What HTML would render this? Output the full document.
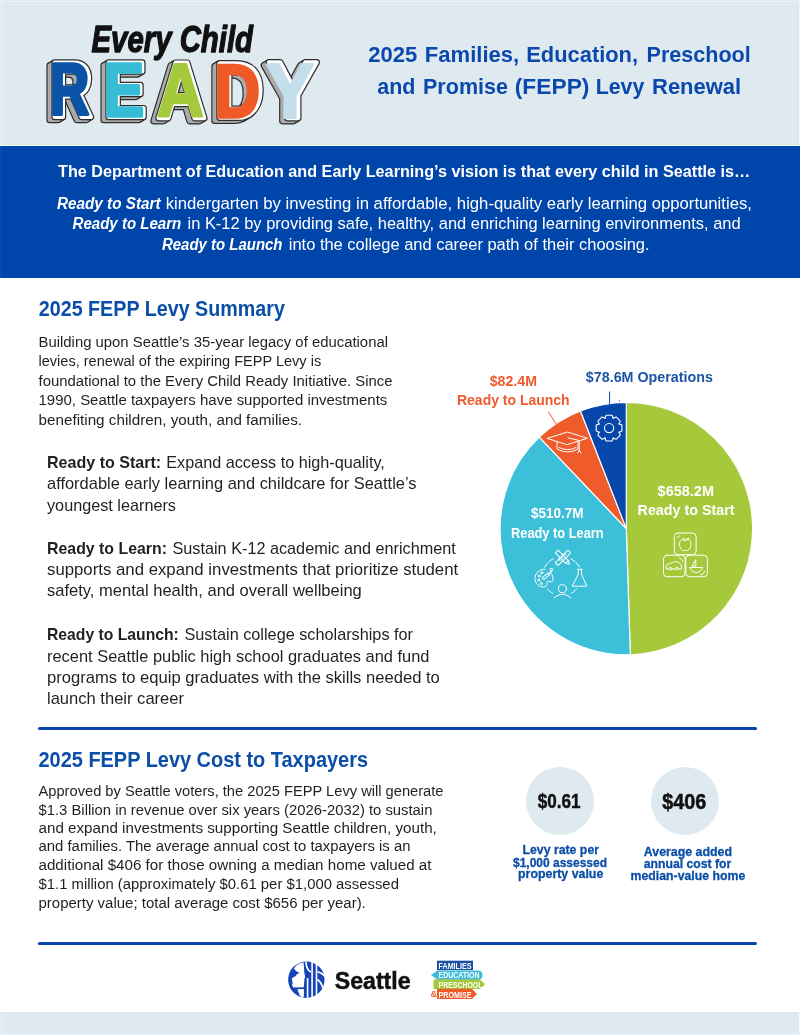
<!DOCTYPE html>
<html><head><meta charset="utf-8">
<style>
html,body{margin:0;padding:0;background:#fff;}
body{width:800px;height:1035px;position:relative;overflow:hidden;font-family:"Liberation Sans",sans-serif;}
.abs{position:absolute;}
svg{position:absolute;left:0;top:0;will-change:transform;}
text{font-family:"Liberation Sans",sans-serif;}
</style></head><body>
<div class="abs" style="left:0;top:0;width:800px;height:145px;background:#dee9f0;"></div>
<div class="abs" style="left:0;top:146px;width:800px;height:132px;background:#0046aa;"></div>
<div class="abs" style="left:38px;top:727px;width:719px;height:2.5px;background:#0746ab;border-radius:2px;"></div>
<div class="abs" style="left:38px;top:942px;width:719px;height:2.5px;background:#0746ab;border-radius:2px;"></div>
<div class="abs" style="left:0;top:1012px;width:800px;height:23px;background:#dee9f0;"></div>
<div class="abs" style="left:0;top:1px;width:800px;height:1px;background:#e9f5fb;"></div>
<div class="abs" style="left:1px;top:0;width:1px;height:145px;background:#e9f5fb;"></div>
<div class="abs" style="left:799px;top:0;width:1px;height:145px;background:#eef9fc;"></div>
<div class="abs" style="left:1px;top:1012px;width:1px;height:23px;background:#e9f5fb;"></div>
<div class="abs" style="left:799px;top:1012px;width:1px;height:23px;background:#f0fafd;"></div>
<div class="abs" style="left:0;top:146px;width:2px;height:132px;background:#0749b2;"></div>
<div class="abs" style="left:0;top:1034px;width:800px;height:1px;background:#eaf6fb;"></div>
<div class="abs" style="left:526px;top:767px;width:68px;height:68px;border-radius:50%;background:#dee9f0;"></div>
<div class="abs" style="left:651px;top:767px;width:68px;height:68px;border-radius:50%;background:#dee9f0;"></div>
<svg width="800" height="1035" viewBox="0 0 800 1035">
<path d="M626.3,528.6 L626.30,402.40 A126.2,126.2 0 0 1 630.32,654.74 Z" fill="#a5c93a" stroke="#fff" stroke-width="1.2" stroke-linejoin="round"/>
<path d="M626.3,528.6 L630.32,654.74 A126.2,126.2 0 0 1 539.30,437.18 Z" fill="#3cbfd8" stroke="#fff" stroke-width="1.2" stroke-linejoin="round"/>
<path d="M626.3,528.6 L539.30,437.18 A126.2,126.2 0 0 1 580.51,411.00 Z" fill="#ef5b2a" stroke="#fff" stroke-width="1.2" stroke-linejoin="round"/>
<path d="M626.3,528.6 L580.51,411.00 A126.2,126.2 0 0 1 626.30,402.40 Z" fill="#0746ab" stroke="#fff" stroke-width="1.2" stroke-linejoin="round"/>
<defs><pattern id="hatch" patternUnits="userSpaceOnUse" width="2" height="2" patternTransform="rotate(45)"><rect width="2" height="2" fill="#d4d4d4"/><rect width="0.8" height="2" fill="#6a6a6a"/></pattern><path id="gR" d="M1105 0 778 535H432V0H137V1409H841Q1093 1409 1230.0 1300.5Q1367 1192 1367 989Q1367 841 1283.0 733.5Q1199 626 1056 592L1437 0ZM1070 977Q1070 1180 810 1180H432V764H818Q942 764 1006.0 820.0Q1070 876 1070 977Z" vector-effect="non-scaling-stroke"/><path id="gE" d="M137 0V1409H1245V1181H432V827H1184V599H432V228H1286V0Z" vector-effect="non-scaling-stroke"/><path id="gA" d="M1133 0 1008 360H471L346 0H51L565 1409H913L1425 0ZM739 1192 733 1170Q723 1134 709.0 1088.0Q695 1042 537 582H942L803 987L760 1123Z" vector-effect="non-scaling-stroke"/><path id="gD" d="M1393 715Q1393 497 1307.5 334.5Q1222 172 1065.5 86.0Q909 0 707 0H137V1409H647Q1003 1409 1198.0 1229.5Q1393 1050 1393 715ZM1096 715Q1096 942 978.0 1061.5Q860 1181 641 1181H432V228H682Q872 228 984.0 359.0Q1096 490 1096 715Z" vector-effect="non-scaling-stroke"/><path id="gY" d="M831 578V0H537V578L35 1409H344L682 813L1024 1409H1333Z" vector-effect="non-scaling-stroke"/></defs>
<g fill="#2e2e2e" stroke="#2e2e2e" stroke-width="6.6" stroke-linejoin="round"><use href="#gR" transform="matrix(0.02785,0,0,-0.03857,45.885,120.000)"/><use href="#gR" transform="matrix(0.02785,0,0,-0.03857,46.885,119.400)"/><use href="#gR" transform="matrix(0.02785,0,0,-0.03857,47.885,118.800)"/><use href="#gR" transform="matrix(0.02785,0,0,-0.03857,48.885,118.200)"/><use href="#gR" transform="matrix(0.02785,0,0,-0.03857,49.885,117.600)"/></g>
<g fill="url(#hatch)" stroke="url(#hatch)" stroke-width="4.2" stroke-linejoin="round"><use href="#gR" transform="matrix(0.02785,0,0,-0.03857,45.885,120.000)"/><use href="#gR" transform="matrix(0.02785,0,0,-0.03857,46.885,119.400)"/><use href="#gR" transform="matrix(0.02785,0,0,-0.03857,47.885,118.800)"/><use href="#gR" transform="matrix(0.02785,0,0,-0.03857,48.885,118.200)"/><use href="#gR" transform="matrix(0.02785,0,0,-0.03857,49.885,117.600)"/></g>
<g fill="#2e2e2e" stroke="#2e2e2e" stroke-width="6.6" stroke-linejoin="round"><use href="#gR" transform="matrix(0.02785,0,0,-0.03857,50.885,117.000)"/></g>
<g fill="#fff" stroke="#fff" stroke-width="4.2" stroke-linejoin="round"><use href="#gR" transform="matrix(0.02785,0,0,-0.03857,50.885,117.000)"/></g>
<g fill="#0a53a6" stroke="#0a53a6" stroke-width="3.0" stroke-linejoin="round"><use href="#gR" transform="matrix(0.02642,0,0,-0.03595,50.030,114.400)"/></g>
<g fill="#2e2e2e" stroke="#2e2e2e" stroke-width="6.6" stroke-linejoin="round"><use href="#gE" transform="matrix(0.03029,0,0,-0.03857,99.551,120.000)"/><use href="#gE" transform="matrix(0.03029,0,0,-0.03857,100.551,119.400)"/><use href="#gE" transform="matrix(0.03029,0,0,-0.03857,101.551,118.800)"/><use href="#gE" transform="matrix(0.03029,0,0,-0.03857,102.551,118.200)"/><use href="#gE" transform="matrix(0.03029,0,0,-0.03857,103.551,117.600)"/></g>
<g fill="url(#hatch)" stroke="url(#hatch)" stroke-width="4.2" stroke-linejoin="round"><use href="#gE" transform="matrix(0.03029,0,0,-0.03857,99.551,120.000)"/><use href="#gE" transform="matrix(0.03029,0,0,-0.03857,100.551,119.400)"/><use href="#gE" transform="matrix(0.03029,0,0,-0.03857,101.551,118.800)"/><use href="#gE" transform="matrix(0.03029,0,0,-0.03857,102.551,118.200)"/><use href="#gE" transform="matrix(0.03029,0,0,-0.03857,103.551,117.600)"/></g>
<g fill="#2e2e2e" stroke="#2e2e2e" stroke-width="6.6" stroke-linejoin="round"><use href="#gE" transform="matrix(0.03029,0,0,-0.03857,104.551,117.000)"/></g>
<g fill="#fff" stroke="#fff" stroke-width="4.2" stroke-linejoin="round"><use href="#gE" transform="matrix(0.03029,0,0,-0.03857,104.551,117.000)"/></g>
<g fill="#37bcd6" stroke="#37bcd6" stroke-width="3.0" stroke-linejoin="round"><use href="#gE" transform="matrix(0.02955,0,0,-0.03722,103.602,116.200)"/></g>
<g fill="#2e2e2e" stroke="#2e2e2e" stroke-width="6.6" stroke-linejoin="round"><use href="#gA" transform="matrix(0.03333,0,0,-0.03932,151.800,121.100)"/><use href="#gA" transform="matrix(0.03333,0,0,-0.03932,152.800,120.500)"/><use href="#gA" transform="matrix(0.03333,0,0,-0.03932,153.800,119.900)"/><use href="#gA" transform="matrix(0.03333,0,0,-0.03932,154.800,119.300)"/><use href="#gA" transform="matrix(0.03333,0,0,-0.03932,155.800,118.700)"/></g>
<g fill="url(#hatch)" stroke="url(#hatch)" stroke-width="4.2" stroke-linejoin="round"><use href="#gA" transform="matrix(0.03333,0,0,-0.03932,151.800,121.100)"/><use href="#gA" transform="matrix(0.03333,0,0,-0.03932,152.800,120.500)"/><use href="#gA" transform="matrix(0.03333,0,0,-0.03932,153.800,119.900)"/><use href="#gA" transform="matrix(0.03333,0,0,-0.03932,154.800,119.300)"/><use href="#gA" transform="matrix(0.03333,0,0,-0.03932,155.800,118.700)"/></g>
<g fill="#2e2e2e" stroke="#2e2e2e" stroke-width="6.6" stroke-linejoin="round"><use href="#gA" transform="matrix(0.03333,0,0,-0.03932,156.800,118.100)"/></g>
<g fill="#fff" stroke="#fff" stroke-width="4.2" stroke-linejoin="round"><use href="#gA" transform="matrix(0.03333,0,0,-0.03932,156.800,118.100)"/></g>
<g fill="#a4c93a" stroke="#a4c93a" stroke-width="3.0" stroke-linejoin="round"><use href="#gA" transform="matrix(0.03100,0,0,-0.03648,157.519,115.900)"/></g>
<g fill="#2e2e2e" stroke="#2e2e2e" stroke-width="6.6" stroke-linejoin="round"><use href="#gD" transform="matrix(0.03256,0,0,-0.03861,210.139,120.700)"/><use href="#gD" transform="matrix(0.03256,0,0,-0.03861,211.139,120.100)"/><use href="#gD" transform="matrix(0.03256,0,0,-0.03861,212.139,119.500)"/><use href="#gD" transform="matrix(0.03256,0,0,-0.03861,213.139,118.900)"/><use href="#gD" transform="matrix(0.03256,0,0,-0.03861,214.139,118.300)"/></g>
<g fill="url(#hatch)" stroke="url(#hatch)" stroke-width="4.2" stroke-linejoin="round"><use href="#gD" transform="matrix(0.03256,0,0,-0.03861,210.139,120.700)"/><use href="#gD" transform="matrix(0.03256,0,0,-0.03861,211.139,120.100)"/><use href="#gD" transform="matrix(0.03256,0,0,-0.03861,212.139,119.500)"/><use href="#gD" transform="matrix(0.03256,0,0,-0.03861,213.139,118.900)"/><use href="#gD" transform="matrix(0.03256,0,0,-0.03861,214.139,118.300)"/></g>
<g fill="#2e2e2e" stroke="#2e2e2e" stroke-width="6.6" stroke-linejoin="round"><use href="#gD" transform="matrix(0.03256,0,0,-0.03861,215.139,117.700)"/></g>
<g fill="#fff" stroke="#fff" stroke-width="4.2" stroke-linejoin="round"><use href="#gD" transform="matrix(0.03256,0,0,-0.03861,215.139,117.700)"/></g>
<g fill="#ef5a27" stroke="#ef5a27" stroke-width="3.0" stroke-linejoin="round"><use href="#gD" transform="matrix(0.03057,0,0,-0.03698,214.711,117.300)"/></g>
<g fill="#2e2e2e" stroke="#2e2e2e" stroke-width="6.6" stroke-linejoin="round"><use href="#gY" transform="matrix(0.03683,0,0,-0.03960,262.611,121.100)"/><use href="#gY" transform="matrix(0.03683,0,0,-0.03960,263.611,120.500)"/><use href="#gY" transform="matrix(0.03683,0,0,-0.03960,264.611,119.900)"/><use href="#gY" transform="matrix(0.03683,0,0,-0.03960,265.611,119.300)"/><use href="#gY" transform="matrix(0.03683,0,0,-0.03960,266.611,118.700)"/></g>
<g fill="url(#hatch)" stroke="url(#hatch)" stroke-width="4.2" stroke-linejoin="round"><use href="#gY" transform="matrix(0.03683,0,0,-0.03960,262.611,121.100)"/><use href="#gY" transform="matrix(0.03683,0,0,-0.03960,263.611,120.500)"/><use href="#gY" transform="matrix(0.03683,0,0,-0.03960,264.611,119.900)"/><use href="#gY" transform="matrix(0.03683,0,0,-0.03960,265.611,119.300)"/><use href="#gY" transform="matrix(0.03683,0,0,-0.03960,266.611,118.700)"/></g>
<g fill="#2e2e2e" stroke="#2e2e2e" stroke-width="6.6" stroke-linejoin="round"><use href="#gY" transform="matrix(0.03683,0,0,-0.03960,267.611,118.100)"/></g>
<g fill="#fff" stroke="#fff" stroke-width="4.2" stroke-linejoin="round"><use href="#gY" transform="matrix(0.03683,0,0,-0.03960,267.611,118.100)"/></g>
<g fill="#c4dfeb" stroke="#c4dfeb" stroke-width="3.0" stroke-linejoin="round"><use href="#gY" transform="matrix(0.03467,0,0,-0.03762,266.287,117.500)"/></g>
<g fill="none" stroke="#fff" stroke-width="1.1" stroke-linejoin="round"><path d="M604.79,418.42 L606.13,415.24 L612.07,415.24 L613.41,418.42 L612.90,418.20 L616.09,416.91 L620.29,421.11 L619.00,424.30 L618.78,423.79 L621.96,425.13 L621.96,431.07 L618.78,432.41 L619.00,431.90 L620.29,435.09 L616.09,439.29 L612.90,438.00 L613.41,437.78 L612.07,440.96 L606.13,440.96 L604.79,437.78 L605.30,438.00 L602.11,439.29 L597.91,435.09 L599.20,431.90 L599.42,432.41 L596.24,431.07 L596.24,425.13 L599.42,423.79 L599.20,424.30 L597.91,421.11 L602.11,416.91 L605.30,418.20Z"/><circle cx="609.1" cy="428.1" r="4.6"/></g>
<g fill="none" stroke="#fff" stroke-width="1" stroke-linejoin="round" stroke-linecap="round"><path d="M547.5,438.3 L567.5,432 L587.3,438.3 L567.3,444.6 Z"/><path d="M557,441.5 V449 Q567.5,455 578,449 V441.5"/><path d="M559,447.5 Q567.5,452 576,447.5"/><path d="M568,437.8 L579.3,440.5 V451"/><path d="M577.8,453 L579.3,450 L580.8,453"/></g>
<g fill="none" stroke="#fff" stroke-width="1" stroke-linejoin="round" stroke-linecap="round"><path d="M570.85,558.73 A19.5,19.5 0 0 1 575.05,561.61"/><path d="M576.26,562.80 A19.5,19.5 0 0 1 579.22,566.95"/><path d="M576.72,588.89 A19.5,19.5 0 0 1 574.27,591.25"/><path d="M573.46,591.88 A19.5,19.5 0 0 1 571.45,593.16"/><path d="M552.55,593.16 A19.5,19.5 0 0 1 550.54,591.88"/><path d="M549.73,591.25 A19.5,19.5 0 0 1 547.28,588.89"/><path d="M544.63,567.25 A19.5,19.5 0 0 1 547.74,562.80"/><path d="M548.95,561.61 A19.5,19.5 0 0 1 553.15,558.73"/><g transform="translate(563,557.8) rotate(45)"><rect x="-2" y="-9" width="4" height="18" rx="0.6"/><path d="M-2,-4 H0 M-2,0 H0 M-2,4 H0"/></g><g transform="translate(563,557.8) rotate(-45)"><path d="M-2,-9 H2 V5.5 L0,9 L-2,5.5 Z M-2,5.5 H2"/></g><path d="M545,569.3 C539,569 535,573.5 535,578.5 C535,583.5 539,587 543.5,587 C546.5,587 547.5,585 547,583.5 C546.5,582 548,580.5 550,581.5 C552.5,582.5 553.5,580.5 553,578 C552.5,575.5 551.5,573 550,572"/><circle cx="539.3" cy="576" r="1.1"/><circle cx="541.8" cy="572.8" r="1.1"/><circle cx="538.8" cy="580" r="1.1"/><circle cx="541.3" cy="583.5" r="1.1"/><g transform="translate(548,574.5) rotate(50)"><path d="M-1.2,-1 V6 Q0,8 1.2,6 V-1 Z"/><path d="M0,-1 V-4.5 Q-1.3,-5 -1,-6.5"/></g><path d="M549.8,569 Q552.5,567.5 553,569.5 Q552,571.5 550.3,571.2"/><path d="M577.5,569.3 H582.2 M578.3,569.3 V574.3 L572.2,586.2 H586.8 L581.5,574.3 V569.3"/><circle cx="562.5" cy="588.7" r="4.1"/><path d="M554,597.8 Q562.5,590.5 571,597.8"/></g>
<g fill="none" stroke="#fff" stroke-width="1" stroke-linejoin="round" stroke-linecap="round"><rect x="674.3" y="533" width="21.8" height="21.6" rx="3.6"/><rect x="663.5" y="555.2" width="21.6" height="21.5" rx="3.6"/><rect x="685.8" y="555.2" width="21.6" height="21.5" rx="3.6"/><path d="M685.2,540.5 C682.5,538.5 679.5,540 679.5,544 C679.5,548 682,551 684,550.5 C684.7,550.3 685.7,550.3 686.4,550.5 C688.4,551 691,548 691,544 C691,540 688,538.5 685.2,540.5 Z"/><path d="M685.2,540.5 L683.2,537.8 M685.2,540.5 Q686.5,538 689,538.2"/><path d="M676.8,537.8 Q678,536 680,535.8"/><path d="M666.2,568.6 V566.3 Q666.3,564.5 668.3,564.1 L670.2,563.6 Q672.8,561.6 675.8,561.6 Q678.8,561.8 680.3,564 Q681.8,565.5 681.8,567.8 L681.5,568.6 Z"/><circle cx="670.4" cy="568.6" r="1.4" fill="#a5c93a"/><circle cx="676.8" cy="568.6" r="1.4" fill="#a5c93a"/><path d="M679,557.5 Q682,558.5 683,561.5"/><path d="M695.5,560 L692.2,566 H695.5 Z"/><path d="M690,567.5 H702.5 Q701,572.5 696,572.5 Q691.5,572.5 690,567.5 Z"/><path d="M700.5,575 Q704,574 705,571"/></g>
<circle cx="306.35" cy="979.7" r="18.2" fill="#1645b6"/><path fill="#fff" d="M303.59,962.15 L299.39,963.46 L296.24,965.56 L293.98,968.45 L295.97,970.97 L299.75,973.28 L296.76,973.96 L296.24,975.69 L292.56,977.79 L291.67,979.21 L292.40,980.78 L292.19,982.10 L292.82,983.15 L292.19,984.46 L292.30,986.03 L293.61,987.61 L303.85,987.35 L304.48,978.53 L305.16,977.48 L304.27,972.12Z"/><path fill="#fff" d="M297.29,989.18 L303.85,989.03 L303.85,995.75 L303.06,998.11 L299.91,995.75Z"/><g stroke="#fff" stroke-width="1.6" fill="none"><path d="M305.95,961.62 Q306.21,969.50 310.93,972.12"/><path d="M307.6,978 V998.5"/><path d="M312.1,961.5 V998.5"/><path d="M316.5,962.5 V998"/><path d="M317.5,971.5 Q322,973 325,976.5"/><path d="M317.5,979.5 Q321.5,982.5 323,988.5"/></g>
<rect x="437" y="960.7" width="36" height="9.4" fill="#1b4ea6"/><path d="M437.5,970.4 H478 Q482.5,970.4 482.5,975 Q482.5,979.8 478,979.8 H437.5 L431,975.1 Z" fill="#3bbcd8"/><path d="M433.5,979.5 H480 L485,984.2 L480,989 H433.5 Z" fill="#a3c83a"/><path d="M437,988.8 H472 L476.8,993.9 L472,999 H437 Z" fill="#ee5a2a"/><g fill="#fff" font-family="Liberation Sans, sans-serif" font-weight="bold" font-size="8.6"><text x="438.5" y="968.5" textLength="33" lengthAdjust="spacingAndGlyphs">FAMILIES</text><text x="438.5" y="978.3" textLength="41" lengthAdjust="spacingAndGlyphs">EDUCATION</text><text x="438.5" y="987.6" textLength="44" lengthAdjust="spacingAndGlyphs">PRESCHOOL</text><text x="438.5" y="997.5" textLength="33" lengthAdjust="spacingAndGlyphs">PROMISE</text></g><text x="430.5" y="997.3" font-family="Liberation Sans, sans-serif" font-weight="bold" font-size="9" fill="#ee5a2a">&amp;</text>
<path d="M609.6,391.5 V404" stroke="#0746ab" stroke-width="1"/><circle cx="619.5" cy="400.8" r="0.6" fill="#0746ab"/>
<path d="M548.3,411.7 L556.5,424.5" stroke="#ef5b2a" stroke-width="1"/>
<text x="368.2" y="62" font-size="22.3" fill="#0a48ae" font-weight="bold" font-style="normal" textLength="49.1" lengthAdjust="spacingAndGlyphs">2025</text>
<text x="424.8" y="62" font-size="22.3" fill="#0a48ae" font-weight="bold" font-style="normal" textLength="94.4" lengthAdjust="spacingAndGlyphs">Families,</text>
<text x="526.3" y="62" font-size="22.3" fill="#0a48ae" font-weight="bold" font-style="normal" textLength="111.7" lengthAdjust="spacingAndGlyphs">Education,</text>
<text x="646.5" y="62" font-size="22.3" fill="#0a48ae" font-weight="bold" font-style="normal" textLength="104.3" lengthAdjust="spacingAndGlyphs">Preschool</text>
<text x="377.3" y="94" font-size="22.3" fill="#0a48ae" font-weight="bold" font-style="normal" textLength="38.1" lengthAdjust="spacingAndGlyphs">and</text>
<text x="423" y="94" font-size="22.3" fill="#0a48ae" font-weight="bold" font-style="normal" textLength="85.0" lengthAdjust="spacingAndGlyphs">Promise</text>
<text x="514.8" y="94" font-size="22.3" fill="#0a48ae" font-weight="bold" font-style="normal" textLength="74.6" lengthAdjust="spacingAndGlyphs">(FEPP)</text>
<text x="595.7" y="94" font-size="22.3" fill="#0a48ae" font-weight="bold" font-style="normal" textLength="48.7" lengthAdjust="spacingAndGlyphs">Levy</text>
<text x="652" y="94" font-size="22.3" fill="#0a48ae" font-weight="bold" font-style="normal" textLength="89.2" lengthAdjust="spacingAndGlyphs">Renewal</text>
<text x="58" y="177.3" font-size="16.8" fill="#fff" textLength="692.3" lengthAdjust="spacingAndGlyphs"><tspan font-weight="bold" font-style="normal">The Department of Education and Early Learning’s vision is that every child in Seattle is…</tspan></text>
<text x="57" y="209" font-size="16.8" fill="#fff" font-weight="bold" font-style="italic" textLength="103.5" lengthAdjust="spacingAndGlyphs">Ready to Start</text>
<text x="165.75" y="209" font-size="16.8" fill="#fff" font-weight="normal" font-style="normal" textLength="586.2" lengthAdjust="spacingAndGlyphs">kindergarten by investing in affordable, high-quality early learning opportunities,</text>
<text x="72.5" y="229.4" font-size="16.8" fill="#fff" font-weight="bold" font-style="italic" textLength="108.8" lengthAdjust="spacingAndGlyphs">Ready to Learn</text>
<text x="187.5" y="229.4" font-size="16.8" fill="#fff" font-weight="normal" font-style="normal" textLength="553.1" lengthAdjust="spacingAndGlyphs">in K-12 by providing safe, healthy, and enriching learning environments, and</text>
<text x="162" y="249.5" font-size="16.8" fill="#fff" font-weight="bold" font-style="italic" textLength="120.5" lengthAdjust="spacingAndGlyphs">Ready to Launch</text>
<text x="288.75" y="249.5" font-size="16.8" fill="#fff" font-weight="normal" font-style="normal" textLength="360.8" lengthAdjust="spacingAndGlyphs">into the college and career path of their choosing.</text>
<text x="38.75" y="315.5" font-size="22.6" fill="#0a4ea8" textLength="246.2" lengthAdjust="spacingAndGlyphs"><tspan font-weight="bold" font-style="normal">2025 FEPP Levy Summary</tspan></text>
<text x="38.5" y="346.55" font-size="15.4" fill="#231f20" textLength="349.5" lengthAdjust="spacingAndGlyphs"><tspan font-weight="normal" font-style="normal">Building upon Seattle’s 35-year legacy of educational</tspan></text>
<text x="38.5" y="365.90000000000003" font-size="15.4" fill="#231f20" textLength="282.7" lengthAdjust="spacingAndGlyphs"><tspan font-weight="normal" font-style="normal">levies, renewal of the expiring FEPP Levy is</tspan></text>
<text x="38.5" y="385.8" font-size="15.4" fill="#231f20" textLength="354.0" lengthAdjust="spacingAndGlyphs"><tspan font-weight="normal" font-style="normal">foundational to the Every Child Ready Initiative. Since</tspan></text>
<text x="38.5" y="405.40000000000003" font-size="15.4" fill="#231f20" textLength="348.8" lengthAdjust="spacingAndGlyphs"><tspan font-weight="normal" font-style="normal">1990, Seattle taxpayers have supported investments</tspan></text>
<text x="38.5" y="424.90000000000003" font-size="15.4" fill="#231f20" textLength="263.5" lengthAdjust="spacingAndGlyphs"><tspan font-weight="normal" font-style="normal">benefiting children, youth, and families.</tspan></text>
<text x="47" y="468.0" font-size="16.6" fill="#231f20" font-weight="bold" font-style="normal" textLength="114.2" lengthAdjust="spacingAndGlyphs">Ready to Start:</text>
<text x="166.25" y="468.0" font-size="16.6" fill="#231f20" font-weight="normal" font-style="normal" textLength="218.6" lengthAdjust="spacingAndGlyphs">Expand access to high-quality,</text>
<text x="47" y="553.5" font-size="16.6" fill="#231f20" font-weight="bold" font-style="normal" textLength="120.0" lengthAdjust="spacingAndGlyphs">Ready to Learn:</text>
<text x="172.5" y="553.5" font-size="16.6" fill="#231f20" font-weight="normal" font-style="normal" textLength="283.3" lengthAdjust="spacingAndGlyphs">Sustain K-12 academic and enrichment</text>
<text x="47" y="640.0" font-size="16.6" fill="#231f20" font-weight="bold" font-style="normal" textLength="131.8" lengthAdjust="spacingAndGlyphs">Ready to Launch:</text>
<text x="184.5" y="640.0" font-size="16.6" fill="#231f20" font-weight="normal" font-style="normal" textLength="228.5" lengthAdjust="spacingAndGlyphs">Sustain college scholarships for</text>
<text x="47" y="489.4" font-size="16.6" fill="#231f20" textLength="369.5" lengthAdjust="spacingAndGlyphs"><tspan font-weight="normal" font-style="normal">affordable early learning and childcare for Seattle’s</tspan></text>
<text x="47" y="510.5" font-size="16.6" fill="#231f20" textLength="129.0" lengthAdjust="spacingAndGlyphs"><tspan font-weight="normal" font-style="normal">youngest learners</tspan></text>
<text x="47" y="574.9" font-size="16.6" fill="#231f20" textLength="411.2" lengthAdjust="spacingAndGlyphs"><tspan font-weight="normal" font-style="normal">supports and expand investments that prioritize student</tspan></text>
<text x="47" y="596.1" font-size="16.6" fill="#231f20" textLength="314.8" lengthAdjust="spacingAndGlyphs"><tspan font-weight="normal" font-style="normal">safety, mental health, and overall wellbeing</tspan></text>
<text x="47" y="661.8" font-size="16.6" fill="#231f20" textLength="382.5" lengthAdjust="spacingAndGlyphs"><tspan font-weight="normal" font-style="normal">recent Seattle public high school graduates and fund</tspan></text>
<text x="47" y="683.0" font-size="16.6" fill="#231f20" textLength="392.8" lengthAdjust="spacingAndGlyphs"><tspan font-weight="normal" font-style="normal">programs to equip graduates with the skills needed to</tspan></text>
<text x="47" y="704.3" font-size="16.6" fill="#231f20" textLength="137.0" lengthAdjust="spacingAndGlyphs"><tspan font-weight="normal" font-style="normal">launch their career</tspan></text>
<text x="38.5" y="766.6" font-size="22.6" fill="#0a4ea8" textLength="329.5" lengthAdjust="spacingAndGlyphs"><tspan font-weight="bold" font-style="normal">2025 FEPP Levy Cost to Taxpayers</tspan></text>
<text x="38.5" y="796.05" font-size="15.4" fill="#231f20" textLength="405.0" lengthAdjust="spacingAndGlyphs"><tspan font-weight="normal" font-style="normal">Approved by Seattle voters, the 2025 FEPP Levy will generate</tspan></text>
<text x="38.5" y="814.55" font-size="15.4" fill="#231f20" textLength="393.9" lengthAdjust="spacingAndGlyphs"><tspan font-weight="normal" font-style="normal">$1.3 Billion in revenue over six years (2026-2032) to sustain</tspan></text>
<text x="38.5" y="832.8" font-size="15.4" fill="#231f20" textLength="398.3" lengthAdjust="spacingAndGlyphs"><tspan font-weight="normal" font-style="normal">and expand investments supporting Seattle children, youth,</tspan></text>
<text x="38.5" y="851.3" font-size="15.4" fill="#231f20" textLength="372.0" lengthAdjust="spacingAndGlyphs"><tspan font-weight="normal" font-style="normal">and families. The average annual cost to taxpayers is an</tspan></text>
<text x="38.5" y="870.0999999999999" font-size="15.4" fill="#231f20" textLength="393.0" lengthAdjust="spacingAndGlyphs"><tspan font-weight="normal" font-style="normal">additional $406 for those owning a median home valued at</tspan></text>
<text x="38.5" y="888.9" font-size="15.4" fill="#231f20" textLength="360.4" lengthAdjust="spacingAndGlyphs"><tspan font-weight="normal" font-style="normal">$1.1 million (approximately $0.61 per $1,000 assessed</tspan></text>
<text x="38.5" y="907.5999999999999" font-size="15.4" fill="#231f20" textLength="327.3" lengthAdjust="spacingAndGlyphs"><tspan font-weight="normal" font-style="normal">property value; total average cost $656 per year).</tspan></text>
<text x="537.8" y="808" font-size="19.5" font-weight="bold" fill="#111" stroke="#111" stroke-width="0.45" textLength="42.8" lengthAdjust="spacingAndGlyphs">$0.61</text>
<text x="662.3" y="809.4" font-size="21.5" font-weight="bold" fill="#111" stroke="#111" stroke-width="0.5" textLength="44.1" lengthAdjust="spacingAndGlyphs">$406</text>
<text x="522.5" y="854.4" font-size="13.6" font-weight="bold" fill="#0a4ea8" stroke="#0a4ea8" stroke-width="0.3" textLength="76.5" lengthAdjust="spacingAndGlyphs">Levy rate per</text>
<text x="513" y="866.9" font-size="13.6" font-weight="bold" fill="#0a4ea8" stroke="#0a4ea8" stroke-width="0.3" textLength="94.0" lengthAdjust="spacingAndGlyphs">$1,000 assessed</text>
<text x="518" y="878.1" font-size="13.6" font-weight="bold" fill="#0a4ea8" stroke="#0a4ea8" stroke-width="0.3" textLength="85.3" lengthAdjust="spacingAndGlyphs">property value</text>
<text x="643.8" y="855.5" font-size="13.6" font-weight="bold" fill="#0a4ea8" stroke="#0a4ea8" stroke-width="0.3" textLength="88.2" lengthAdjust="spacingAndGlyphs">Average added</text>
<text x="643.8" y="868.2" font-size="13.6" font-weight="bold" fill="#0a4ea8" stroke="#0a4ea8" stroke-width="0.3" textLength="87.5" lengthAdjust="spacingAndGlyphs">annual cost for</text>
<text x="630.5" y="880" font-size="13.6" font-weight="bold" fill="#0a4ea8" stroke="#0a4ea8" stroke-width="0.3" textLength="114.8" lengthAdjust="spacingAndGlyphs">median-value home</text>
<text x="657.6" y="495.8" font-size="15" fill="#fff" textLength="56.4" lengthAdjust="spacingAndGlyphs"><tspan font-weight="bold" font-style="normal">$658.2M</tspan></text>
<text x="637.6" y="515" font-size="15" fill="#fff" textLength="96.9" lengthAdjust="spacingAndGlyphs"><tspan font-weight="bold" font-style="normal">Ready to Start</tspan></text>
<text x="531" y="518" font-size="15" fill="#fff" textLength="52.6" lengthAdjust="spacingAndGlyphs"><tspan font-weight="bold" font-style="normal">$510.7M</tspan></text>
<text x="511" y="538" font-size="15" fill="#fff" textLength="92.6" lengthAdjust="spacingAndGlyphs"><tspan font-weight="bold" font-style="normal">Ready to Learn</tspan></text>
<text x="489.7" y="386" font-size="15" fill="#ef5b2a" textLength="47.3" lengthAdjust="spacingAndGlyphs"><tspan font-weight="bold" font-style="normal">$82.4M</tspan></text>
<text x="457" y="405" font-size="15" fill="#ef5b2a" textLength="112.6" lengthAdjust="spacingAndGlyphs"><tspan font-weight="bold" font-style="normal">Ready to Launch</tspan></text>
<text x="585.8" y="382" font-size="15" fill="#1b55a6" textLength="127.2" lengthAdjust="spacingAndGlyphs"><tspan font-weight="bold" font-style="normal">$78.6M Operations</tspan></text>
<text x="334.8" y="988.6" font-size="24.4" font-weight="bold" fill="#111" stroke="#111" stroke-width="0.5" textLength="75.8" lengthAdjust="spacingAndGlyphs">Seattle</text>
<text x="91.5" y="51.7" font-size="36" font-weight="bold" font-style="italic" fill="#111" stroke="#111" stroke-width="1.3" stroke-linejoin="round" textLength="161.5" lengthAdjust="spacingAndGlyphs">Every Child</text>
</svg>
</body></html>
